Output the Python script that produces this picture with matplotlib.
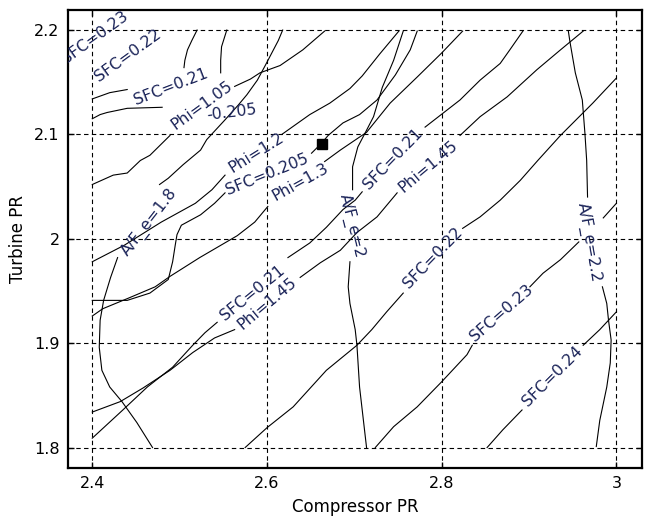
import numpy as np
import matplotlib
matplotlib.use("Agg")
import matplotlib.pyplot as plt

nan = np.nan

# contour traces, one array per level, NaN where the line breaks for a label
sfc_0205_x = [2.400, 2.409, 2.417, 2.440, 2.480, nan,
              2.547, 2.547, 2.548, 2.554, nan,
              2.400, 2.412, 2.440, 2.466, 2.487, 2.492, 2.495, 2.497, 2.502, 2.524, 2.540, 2.552, nan,
              2.651, 2.657, 2.663, 2.670, 2.687, 2.706, 2.726, 2.747, 2.764, 2.772]
sfc_0205_y = [2.115, 2.119, 2.121, 2.125, 2.126, nan,
              2.159, 2.171, 2.184, 2.200, nan,
              1.941, 1.941, 1.941, 1.948, 1.961, 1.978, 1.994, 2.004, 2.013, 2.023, 2.034, 2.044, nan,
              2.082, 2.087, 2.092, 2.099, 2.111, 2.119, 2.133, 2.157, 2.181, 2.199]

sfc_021_x = [2.400, 2.420, 2.440, nan,
             2.505, 2.506, 2.509, 2.514, 2.520, nan,
             2.400, 2.435, 2.463, 2.492, 2.515, 2.529, 2.543, nan,
             2.624, 2.649, 2.668, 2.687, 2.701, 2.709, nan,
             2.781, 2.801, 2.821, 2.844, 2.867, 2.878, 2.893]
sfc_021_y = [2.134, 2.140, 2.143, nan,
             2.164, 2.171, 2.181, 2.190, 2.200, nan,
             1.809, 1.836, 1.858, 1.877, 1.898, 1.910, 1.920, nan,
             1.982, 1.996, 2.011, 2.028, 2.037, 2.045, nan,
             2.107, 2.120, 2.133, 2.152, 2.168, 2.181, 2.199]

sfc_022_x = [2.575, 2.600, 2.630, 2.668, 2.703, 2.720, 2.737, 2.756, nan,
             2.824, 2.844, 2.867, 2.890, 2.910, 2.936, 2.973, 3.000]
sfc_022_y = [1.800, 1.819, 1.839, 1.874, 1.898, 1.913, 1.930, 1.948, nan,
             2.010, 2.021, 2.037, 2.056, 2.075, 2.099, 2.130, 2.154]

sfc_023_x = [2.724, 2.745, 2.772, 2.800, 2.829, 2.835, nan,
             2.901, 2.916, 2.936, 2.957, nan,
             2.985, 3.000]
sfc_023_y = [1.800, 1.820, 1.839, 1.863, 1.889, 1.898, nan,
             1.954, 1.967, 1.980, 1.997, nan,
             2.020, 2.034]

sfc_024_x = [2.852, 2.870, 2.892, nan, 2.962, 2.981, 3.000]
sfc_024_y = [1.800, 1.817, 1.836, nan, 1.898, 1.913, 1.930]

phi_105_x = [2.400, 2.424, 2.440, 2.455, 2.466, 2.489, nan,
             2.563, 2.581, 2.592, 2.615, 2.641, 2.666]
phi_105_y = [2.052, 2.061, 2.063, 2.075, 2.080, 2.099, nan,
             2.146, 2.153, 2.159, 2.166, 2.181, 2.199]

phi_12_x = [2.400, 2.437, 2.479, 2.518, 2.537, 2.552, nan,
            2.617, 2.649, 2.672, 2.695, 2.709, 2.729, 2.751]
phi_12_y = [1.978, 1.994, 2.016, 2.034, 2.047, 2.061, nan,
            2.100, 2.119, 2.130, 2.144, 2.156, 2.177, 2.199]

phi_13_x = [2.400, 2.412, 2.441, 2.472, 2.489, 2.523, 2.566, 2.586, 2.601, nan,
            2.666, 2.684, 2.714, 2.741, 2.772, 2.800, 2.824]
phi_13_y = [1.926, 1.933, 1.943, 1.954, 1.964, 1.982, 2.003, 2.016, 2.031, nan,
            2.074, 2.085, 2.102, 2.130, 2.155, 2.178, 2.199]

phi_145_x = [2.400, 2.432, 2.458, 2.489, 2.515, 2.540, 2.563, nan,
             2.638, 2.661, 2.684, 2.703, 2.726, 2.749, nan,
             2.821, 2.844, 2.875, 2.909, 2.936, 2.962]
phi_145_y = [1.834, 1.844, 1.857, 1.874, 1.891, 1.905, 1.913, nan,
             1.963, 1.977, 1.989, 2.006, 2.021, 2.044, nan,
             2.099, 2.117, 2.136, 2.162, 2.181, 2.199]

afe_18_x = [2.469, 2.451, 2.434, 2.420, 2.411, 2.408, 2.409, 2.413, 2.421, 2.429, nan,
            2.477, 2.487, 2.504, 2.524, 2.531, 2.552, 2.567, 2.577, 2.589, 2.598, 2.613, 2.618]
afe_18_y = [1.800, 1.824, 1.844, 1.858, 1.874, 1.896, 1.922, 1.941, 1.963, 1.982, nan,
            2.052, 2.058, 2.071, 2.085, 2.095, 2.114, 2.128, 2.138, 2.152, 2.166, 2.190, 2.200]

afe_2_x = [2.714, 2.706, 2.703, 2.701, 2.695, 2.693, 2.695, nan,
           2.698, 2.698, 2.704, 2.714, 2.722, 2.732, 2.745, 2.756]
afe_2_y = [1.800, 1.858, 1.898, 1.913, 1.938, 1.954, 1.978, nan,
           2.047, 2.069, 2.088, 2.104, 2.117, 2.145, 2.171, 2.199]

afe_22_x = [2.977, 2.981, 2.989, 2.993, 2.994, 2.991, 2.989, 2.984, nan,
            2.967, 2.966, 2.964, 2.961, 2.953, 2.947, 2.945]
afe_22_y = [1.801, 1.826, 1.858, 1.881, 1.903, 1.922, 1.938, 1.954, nan,
            2.040, 2.075, 2.101, 2.133, 2.159, 2.188, 2.199]

# inline contour labels
label_text = ["SFC=0.23", "SFC=0.22", "SFC=0.21", "-0.205", "Phi=1.05",
              "Phi=1.2", "SFC=0.205", "Phi=1.3", "A/F_e=1.8", "A/F_e=2",
              "SFC=0.21", "Phi=1.45", "SFC=0.21", "Phi=1.45", "SFC=0.22",
              "SFC=0.23", "SFC=0.24", "A/F_e=2.2"]
label_x = [2.403, 2.441, 2.490, 2.560, 2.526,
           2.588, 2.600, 2.638, 2.466, 2.697,
           2.744, 2.784, 2.583, 2.600, 2.790,
           2.868, 2.927, 2.968]
label_y = [2.193, 2.176, 2.146, 2.121, 2.128,
           2.082, 2.062, 2.054, 2.016, 2.012,
           2.077, 2.069, 1.948, 1.938, 1.982,
           1.929, 1.868, 1.997]
label_rot = [36, 36, 21, 7, 36,
             32, 22, 29, 52, -76,
             46, 40, 39, 40, 46,
             41, 45, -80]

# design point
point_x = [2.663]
point_y = [2.091]

x_ticks = [2.4, 2.6, 2.8, 3.0]
x_tick_labels = ["2.4", "2.6", "2.8", "3"]
y_ticks = [1.8, 1.9, 2.0, 2.1, 2.2]
y_tick_labels = ["1.8", "1.9", "2", "2.1", "2.2"]

levels = [
    (sfc_0205_x, sfc_0205_y), (sfc_021_x, sfc_021_y), (sfc_022_x, sfc_022_y),
    (sfc_023_x, sfc_023_y), (sfc_024_x, sfc_024_y),
    (phi_105_x, phi_105_y), (phi_12_x, phi_12_y), (phi_13_x, phi_13_y),
    (phi_145_x, phi_145_y),
    (afe_18_x, afe_18_y), (afe_2_x, afe_2_y), (afe_22_x, afe_22_y),
]

fig = plt.figure(figsize=(6.45, 5.18), dpi=100)
ax = fig.add_axes([0.1054, 0.0965, 0.8899, 0.8842])

for xs, ys in levels:
    ax.plot(xs, ys, color="black", linewidth=0.8)

label_color = "#1a2358"
for s, lx, ly, r in zip(label_text, label_x, label_y, label_rot):
    ax.text(lx, ly, s, rotation=r, rotation_mode="anchor",
            ha="center", va="center", fontsize=11.3,
            color=label_color, clip_on=True)

ax.plot(point_x, point_y, marker="s", color="black", markersize=6.5,
        linestyle="none")

ax.set_xlim(2.3722, 3.0293)
ax.set_ylim(1.7804, 2.2192)
ax.set_xticks(x_ticks)
ax.set_xticklabels(x_tick_labels)
ax.set_yticks(y_ticks)
ax.set_yticklabels(y_tick_labels)
ax.tick_params(direction="in", length=4, width=1, labelsize=11.5,
               top=True, right=True, pad=6)
ax.grid(True, color="black", linestyle=(0, (4, 3)), linewidth=0.8)
for sp in ax.spines.values():
    sp.set_linewidth(1.6)

ax.set_xlabel("Compressor PR", fontsize=12, labelpad=5)
ax.set_ylabel("Turbine PR", fontsize=12, labelpad=5)

fig.savefig("out.png", dpi=100)
